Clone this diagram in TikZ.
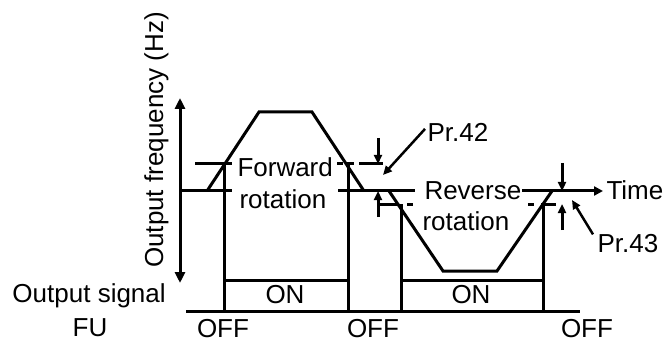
\documentclass[tikz,border=0pt]{standalone}
\usepackage{fontspec}
\setmainfont{Liberation Sans}
\usetikzlibrary{arrows.meta}
\begin{document}
\begin{tikzpicture}[x=1pt,y=-1pt,line width=3pt,
  lbl/.style={inner sep=0pt,font=\fontsize{26}{30}\selectfont},
  bigtip/.style={-{Triangle[length=11pt,width=10pt]}},
  smalltip/.style={-{Triangle[length=9pt,width=8pt]}}]
\useasboundingbox (0,0) rectangle (667,342);
% axis
\coordinate (axtop) at (180,98);
\coordinate (axbot) at (180,283);
\draw[{Triangle[length=11pt,width=10pt]}-{Triangle[length=11pt,width=10pt]}] (axtop) -- (axbot);
% zero line
\coordinate (z0) at (180,191);
\coordinate (z1) at (232,191);
\coordinate (z2) at (338,191);
\coordinate (z3) at (415,191);
\coordinate (z4) at (522,191);
\coordinate (z5) at (603,191);
\draw (z0) -- (z1);
\draw (z2) -- (z3);
\draw[-{Triangle[length=9pt,width=9pt]}] (z4) -- (z5);
% frequency pattern
\draw[line join=miter] (207,191) -- (259,112) -- (312,112) -- (364,191);
\draw[line join=miter] (389,191) -- (443,271) -- (497,271) -- (552,191);
% upper dashed threshold (forward)
\draw (195,164) -- (232,164);
\draw (337,164) -- (343,164);
\draw (347,164) -- (354,164);
\draw (359,164) -- (383,164);
% lower dashed threshold (reverse)
\draw (378,204) -- (398,204);
\draw (407,204) -- (413,204);
\draw (528,204) -- (534,204);
\draw (541,204) -- (556,204);
% FU signal
\draw (224,164) -- (224,311);
\draw (348,164) -- (348,311);
\draw (401,204) -- (401,311);
\draw (543,204) -- (543,311);
\draw (224,280) -- (348,280);
\draw (401,280) -- (543,280);
\draw (186,311) -- (580,311);
% Pr.42 marker
\coordinate (p42a) at (378,138);
\coordinate (p42b) at (378,164);
\coordinate (p42c) at (378,217);
\coordinate (p42d) at (378,191);
\draw[smalltip] (p42a) -- (p42b);
\draw[smalltip] (p42c) -- (p42d);
% Pr.43 marker
\coordinate (p43a) at (562,163);
\coordinate (p43b) at (562,191);
\coordinate (p43c) at (562,230);
\coordinate (p43d) at (562,204);
\draw[smalltip] (p43a) -- (p43b);
\draw[smalltip] (p43c) -- (p43d);
% labels
\node[lbl,rotate=90,anchor=base] (yl) at (163,140) {Output frequency (Hz)};
\node[lbl,anchor=base west] (fw1) at (236,177) {Forward};
\node[lbl,anchor=base west] (fw2) at (238,208) {rotation};
\node[lbl,anchor=base west] (rv1) at (423,200) {Reverse};
\node[lbl,anchor=base west] (rv2) at (421,230) {rotation};
\node[lbl,anchor=base west] (time) at (605,200) {Time};
\node[lbl,anchor=base west] (pr42) at (426,142) {Pr.42};
\node[lbl,anchor=base west] (pr43) at (596,252) {Pr.43};
\node[lbl,anchor=base west] (os) at (11,302) {Output signal};
\node[lbl,anchor=base] (fu) at (90,336) {FU};
\node[lbl,anchor=base] (on1) at (285,303) {ON};
\node[lbl,anchor=base] (on2) at (471,303) {ON};
\node[lbl,anchor=base] (off1) at (223,337) {OFF};
\node[lbl,anchor=base] (off2) at (373,337) {OFF};
\node[lbl,anchor=base] (off3) at (587,337) {OFF};
% leaders
\coordinate (l42) at (383,175);
\coordinate (l43) at (572,200);
\draw[smalltip,line width=2.5pt] (pr42.west) ++(-1,-4) -- (l42);
\draw[smalltip,line width=2.5pt] (pr43.north west) ++(-3,2) -- (l43);
\end{tikzpicture}
\end{document}
